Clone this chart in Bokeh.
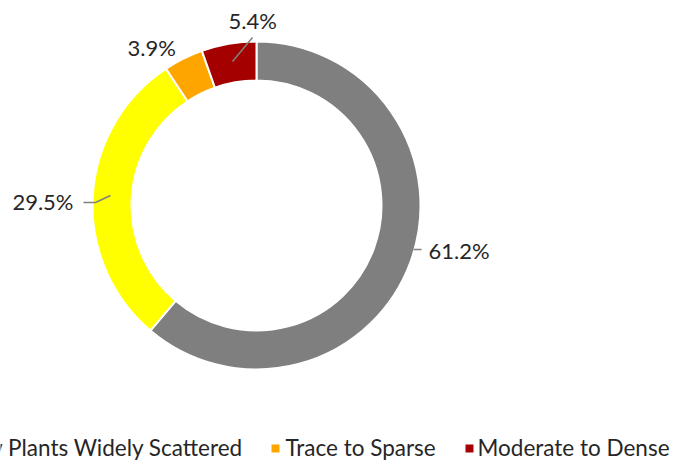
import math
from bokeh.plotting import figure
from bokeh.models import Range1d, ColumnDataSource
from bokeh.core.properties import value
from bokeh.embed import file_html
from bokeh.resources import INLINE

# ---- data ----
categories = ["None", "Few Plants Widely Scattered", "Trace to Sparse", "Moderate to Dense"]
values = [61.2, 29.5, 3.9, 5.4]
colors = ["#7F7F7F", "#FFFF00", "#FFA500", "#A50000"]

# ---- layout (page pixel coordinates, y downward) ----
W, H = 689, 460
CX, CY = 256, 205
R_IN, R_OUT = 125, 164
# data label anchors: x, y, align
label_pos = [(428, 250, "left"), (73, 201, "right"), (127, 47, "left"), (228, 20, "left")]
leaders = [
    [(413, 249), (421, 249)],
    [(83, 202), (95, 202), (110, 195)],
    None,
    [(252, 37), (232, 61)],
]
# legend entries: (category index, square left x, text x, text align)
legend_layout = [(1, None, 243, "right"), (2, 271, 285, "left"), (3, 465, 477, "left")]
LEGEND_Y = 447
SQ = 8
FONT = "Lato"
TEXT_COLOR = "#262626"

p = figure(width=W, height=H, output_backend="svg", toolbar_location=None,
           x_range=Range1d(0, W), y_range=Range1d(-H, 0),
           min_border_left=0, min_border_top=0, min_border_bottom=0, min_border_right=0)
p.axis.visible = False
p.grid.visible = False
p.outline_line_color = None
p.background_fill_color = "white"
p.border_fill_color = "white"

total = sum(values)
starts, ends = [], []
cum = 0.0
for v in values:
    s = math.pi / 2 - 2 * math.pi * cum / total
    e = s - 2 * math.pi * v / total
    starts.append(s)
    ends.append(e)
    cum += v

src = ColumnDataSource(dict(start=starts, end=ends, color=colors, cat=categories))
p.annular_wedge(x=CX, y=-CY, inner_radius=R_IN, outer_radius=R_OUT,
                start_angle="start", end_angle="end", direction="clock",
                fill_color="color", line_color="white", line_width=2, source=src)

# leader lines
for ld in leaders:
    if ld:
        p.line([a for a, b in ld], [-b for a, b in ld], line_color="#808080", line_width=1.5)

# data labels
for v, (lx, ly, al) in zip(values, label_pos):
    p.text(x=[lx], y=[-ly], text=[f"{v:.1f}%"], text_align=al, text_baseline="middle",
           text_font=value(FONT), text_font_size="22px", text_color=TEXT_COLOR)

# legend (drawn as glyphs so it is cut at the page edge like the reference)
for idx, sqx, tx, al in legend_layout:
    if sqx is not None:
        p.rect(x=[sqx + SQ / 2], y=[-(LEGEND_Y + 1)], width=SQ, height=SQ,
               fill_color=colors[idx], line_color=None)
    p.text(x=[tx], y=[-LEGEND_Y], text=[categories[idx]], text_align=al,
           text_baseline="middle", text_font=value(FONT), text_font_size="22.5px",
           text_color=TEXT_COLOR)

open("out.html", "w").write(file_html(p, INLINE))
